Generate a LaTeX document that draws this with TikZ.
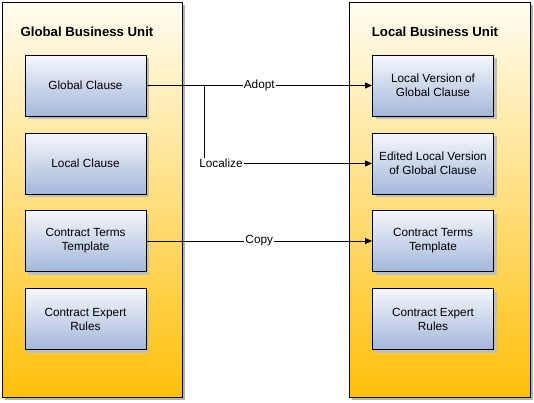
\documentclass[tikz,border=0pt]{standalone}
\usepackage{fontspec}
\setmainfont{Liberation Sans}
\usetikzlibrary{arrows.meta,shadows}
\definecolor{buTop}{HTML}{FFFDF2}
\definecolor{buMid}{HTML}{FFE38E}
\definecolor{buBot}{HTML}{FFC00A}
\definecolor{boxTop}{HTML}{F5F7FB}
\definecolor{boxBot}{HTML}{A4B7DB}
\tikzset{
  unit/.style={draw=black,line width=0.9pt,minimum width=180pt,minimum height=395pt,
    top color=buTop,middle color=buMid,bottom color=buBot,
    drop shadow={shadow xshift=3pt,shadow yshift=-3pt,fill=black!30,opacity=1}},
  item/.style={draw=black,line width=0.9pt,minimum width=121pt,minimum height=61pt,
    top color=boxTop,bottom color=boxBot,align=center,font=\fontsize{11.8}{14}\selectfont,
    drop shadow={shadow xshift=3pt,shadow yshift=-3pt,fill=black!25,opacity=1}},
  unittitle/.style={font=\fontsize{13.2}{15}\selectfont\bfseries},
  lbl/.style={fill=white,inner sep=1pt,font=\fontsize{11.8}{14}\selectfont},
  link/.style={line width=0.8pt,-{Triangle[length=7pt,width=6pt]}}
}
\begin{document}
\begin{tikzpicture}[x=1pt,y=-1pt]
\useasboundingbox (0,0) rectangle (534,402);
\node[unit] (gbu) at (92,199.5) {};
\node[unit,minimum width=181pt] (lbu) at (439.5,199.5) {};
\node[unittitle] (gtitle) at (87,32) {Global Business Unit};
\node[unittitle] (ltitle) at (435,32) {Local Business Unit};
\node[item] (gc) at (85.5,85.5) {Global Clause};
\node[item] (lc) at (85.5,163.5) {Local Clause};
\node[item] (gct) at (85.5,241) {Contract Terms\\Template};
\node[item] (gcr) at (85.5,319) {Contract Expert\\Rules};
\node[item] (lv) at (433,85.5) {Local Version of\\Global Clause};
\node[item] (elv) at (433,163.5) {Edited Local Version\\of Global Clause};
\node[item] (lct) at (433,241) {Contract Terms\\Template};
\node[item] (lcr) at (433,319) {Contract Expert\\Rules};
\coordinate (split) at (204,85.5);
\node[lbl] (loc) at (221,163.5) {Localize};
\draw[link] (gc.east) -- node[lbl] {Adopt} (lv.west);
\draw[line width=0.8pt] (split) -- (split |- loc.north);
\draw[link] (loc.east) -- (elv.west);
\draw[link] (gct.east) -- node[lbl] {Copy} (lct.west);
\end{tikzpicture}
\end{document}
